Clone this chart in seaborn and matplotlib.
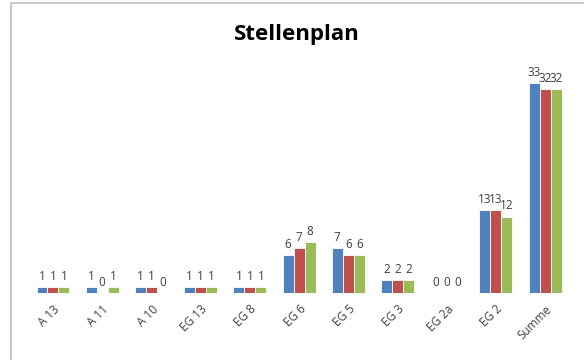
import seaborn as sns
import matplotlib.pyplot as plt
import pandas as pd
from matplotlib.patches import Rectangle

# Stellenplan-Daten
kategorien = ['A 13', 'A 11', 'A 10', 'EG 13', 'EG 8', 'EG 6', 'EG 5', 'EG 3', 'EG 2a', 'EG 2', 'Summe']
reihe1 = [1, 1, 1, 1, 1, 6, 7, 2, 0, 13, 33]
reihe2 = [1, 0, 1, 1, 1, 7, 6, 2, 0, 13, 32]
reihe3 = [1, 1, 0, 1, 1, 8, 6, 2, 0, 12, 32]
reihen = ['Reihe1', 'Reihe2', 'Reihe3']
farben = ['#4F81BD', '#C0504D', '#9BBB59']

df = pd.DataFrame({'Kategorie': kategorien, 'Reihe1': reihe1, 'Reihe2': reihe2, 'Reihe3': reihe3})
df_long = df.melt(id_vars='Kategorie', var_name='Reihe', value_name='Anzahl')

sns.set_style('white')
plt.rcParams['font.family'] = ['Open Sans', 'DejaVu Sans']

fig = plt.figure(figsize=(5.84, 3.6), dpi=100)
ax = fig.add_axes([0.0486, 0.186, 0.927, 0.619])

sns.barplot(data=df_long, x='Kategorie', y='Anzahl', hue='Reihe', order=kategorien,
            hue_order=reihen, palette=farben, saturation=1, width=0.67, edgecolor='white',
            linewidth=0.6, legend=False, ax=ax)

for cont in ax.containers:
    ax.bar_label(cont, padding=3, fontsize=8.5, color='#404040')

ax.set_ylim(0, 35)
ax.set_xlim(-0.5, len(kategorien) - 0.5)
ax.set_yticks([])
ax.set_xlabel('')
ax.set_ylabel('')
for s in ax.spines.values():
    s.set_visible(False)
ax.tick_params(axis='x', length=0, pad=7)
plt.setp(ax.get_xticklabels(), rotation=45, ha='right', rotation_mode='anchor',
         fontsize=8.5, color='#404040')

fig.text(0.508, 0.903, 'Stellenplan', ha='center', va='center', fontsize=16,
         fontweight='bold', color='black')

# Rahmen des Diagramms
fig.patches.append(Rectangle((11 / 584, -0.1), 1.2, 1 - 3 / 360 + 0.1, transform=fig.transFigure,
                             fill=False, edgecolor='#BFBFBF', linewidth=1.2))

fig.savefig('out.png', dpi=100)
